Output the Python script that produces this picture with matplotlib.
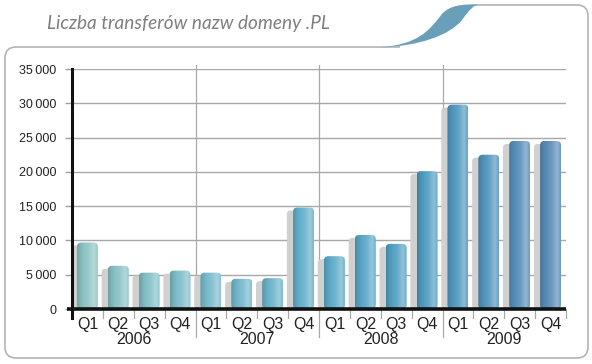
"""Liczba transferów nazw domeny .PL - quarterly bars 2006-2009."""

import numpy as np
import matplotlib
matplotlib.use("Agg")
import matplotlib.pyplot as plt
from matplotlib.patches import FancyBboxPatch, PathPatch
from matplotlib.path import Path
from matplotlib.colors import LinearSegmentedColormap, to_rgb

title = "Liczba transferów nazw domeny .PL"
years = ["2006", "2007", "2008", "2009"]
quarters = ["Q1", "Q2", "Q3", "Q4"]
transfers = [9700, 6300, 5300, 5600,
             5300, 4400, 4500, 14800,
             7700, 10800, 9500, 20100,
             29800, 22500, 24500, 24500]
y_ticks = [0, 5000, 10000, 15000, 20000, 25000, 30000, 35000]

W, H = 592, 364
fig = plt.figure(figsize=(W / 100, H / 100), dpi=100)

# decorative frame, pixel coordinates
bg = fig.add_axes([0, 0, 1, 1], zorder=0)
bg.set_xlim(0, W)
bg.set_ylim(H, 0)
bg.axis("off")
frame_col = "#b4b4b4"
r = 11
verts = [(400, 47), (5 + r, 47), (5, 47), (5, 47 + r), (5, 358 - r), (5, 358), (5 + r, 358),
         (588 - r, 358), (588, 358), (588, 358 - r), (588, 5 + r), (588, 5), (588 - r, 5),
         (475, 5)]
codes = [Path.MOVETO, Path.LINETO, Path.CURVE3, Path.CURVE3, Path.LINETO, Path.CURVE3, Path.CURVE3,
         Path.LINETO, Path.CURVE3, Path.CURVE3, Path.LINETO, Path.CURVE3, Path.CURVE3, Path.LINETO]
bg.add_patch(PathPatch(Path(verts, codes), fill=False, edgecolor=frame_col, lw=1.2))
swoosh = [(380, 47.5),
          (420, 46), (450, 35), (462, 20),
          (470, 9), (474, 5), (479, 4.3),
          (462, 4.3), (450, 5), (442, 14),
          (428, 32), (418, 44), (380, 47.5)]
scodes = [Path.MOVETO,
          Path.CURVE4, Path.CURVE4, Path.CURVE4,
          Path.CURVE4, Path.CURVE4, Path.CURVE4,
          Path.CURVE4, Path.CURVE4, Path.CURVE4,
          Path.CURVE4, Path.CURVE4, Path.CURVE4]
bg.add_patch(PathPatch(Path(swoosh, scodes), facecolor="#6a9fb9", edgecolor="none"))
bg.text(47, 23, title, fontsize=13.7, style="italic", color="#7f7f7f",
        family=["Lato", "DejaVu Sans"], va="center", ha="left")

# chart axes
left, right, bottom, top = 72, 566, 309, 69
ax = fig.add_axes([left / W, (H - bottom) / H, (right - left) / W, (bottom - top) / H], zorder=1)
ax.patch.set_alpha(0)
n = len(transfers)
x = np.arange(n)

for s in ax.spines.values():
    s.set_visible(False)
ax.set_yticks(y_ticks)
ax.set_yticklabels([f"{v:,}".replace(",", "\u2009") for v in y_ticks],
                   family=["Liberation Sans", "DejaVu Sans"], fontsize=9, color="#222222")
ax.tick_params(axis="y", length=5, color="#a0a0a0", width=1, pad=6)
ax.set_xticks([])
ax.grid(axis="y", color="#a8a8a8", lw=1, zorder=0)
ax.set_axisbelow(True)

px_x = n / (right - left)
px_y = 35000 / (bottom - top)

# year separators and quarter ticks
for b in range(4, n, 4):
    ax.plot([b - 0.5, b - 0.5], [35000 + 4 * px_y, -28 * px_y], color="#a8a8a8",
            lw=0.9, clip_on=False, zorder=1)
for b in range(1, n + 1):
    if b % 4:
        ax.plot([b - 0.5, b - 0.5], [0, -9 * px_y], color="#a8a8a8", lw=0.9, clip_on=False)
ax.plot([n - 0.5, n - 0.5], [0, -9 * px_y], color="#a8a8a8", lw=0.9, clip_on=False)

# axis lines
ax.plot([-0.5, -0.5], [35000, -9 * px_y], color="#111111", lw=2.2, clip_on=False, zorder=6)
ax.plot([-0.5 - 5 * px_x, n - 0.5], [0, 0], color="#111111", lw=2.6, clip_on=False, zorder=6,
        solid_capstyle="butt")

# bars with horizontal shading and a soft shadow on the left
cmap = LinearSegmentedColormap.from_list(
    "bars", ["#8ec4c4", "#7bbccc", "#62aecb", "#4f9cc0", "#5a8cb8"])
bars = ax.bar(x, transfers, width=0.68, color="none", edgecolor="none", zorder=3)
aspect = px_y / px_x
prof_t = np.linspace(0, 1, 64)
light = np.interp(prof_t, [0, 0.15, 0.55, 0.82, 1.0], [-0.18, -0.08, 0.1, 0.35, 0.12])
for i, rect in enumerate(bars):
    x0, w, h = rect.get_x(), rect.get_width(), rect.get_height()
    base = np.array(to_rgb(cmap(i / (n - 1))))
    sh = FancyBboxPatch((x0 - 0.2, 0), w * 0.9, h - 3 * px_y,
                        boxstyle="round,pad=0,rounding_size=0.12", mutation_aspect=aspect,
                        facecolor="#d0d0d0", edgecolor="none", zorder=2)
    ax.add_patch(sh)
    clip = FancyBboxPatch((x0, 0), w, h, boxstyle="round,pad=0,rounding_size=0.14",
                          mutation_aspect=aspect, facecolor="none", edgecolor="none", zorder=3)
    ax.add_patch(clip)
    grad = np.empty((1, len(prof_t), 3))
    for k, l in enumerate(light):
        grad[0, k] = base + (1 - base) * l if l > 0 else base * (1 + l)
    im = ax.imshow(grad, extent=(x0, x0 + w, 0, h), aspect="auto", zorder=3,
                   interpolation="bilinear")
    im.set_clip_path(clip)
ax.set_xlim(-0.5, n - 0.5)
ax.set_ylim(0, 35000)

lab_font = dict(family=["Liberation Sans", "DejaVu Sans"], fontsize=11.5, color="#222222")
for i in range(n):
    ax.text(x[i], -15 * px_y, quarters[i % 4], ha="center", va="center", **lab_font)
for j, yr in enumerate(years):
    ax.text(4 * j + 1.5, -31 * px_y, yr, ha="center", va="center", **lab_font)

fig.savefig("out.png", dpi=100)
